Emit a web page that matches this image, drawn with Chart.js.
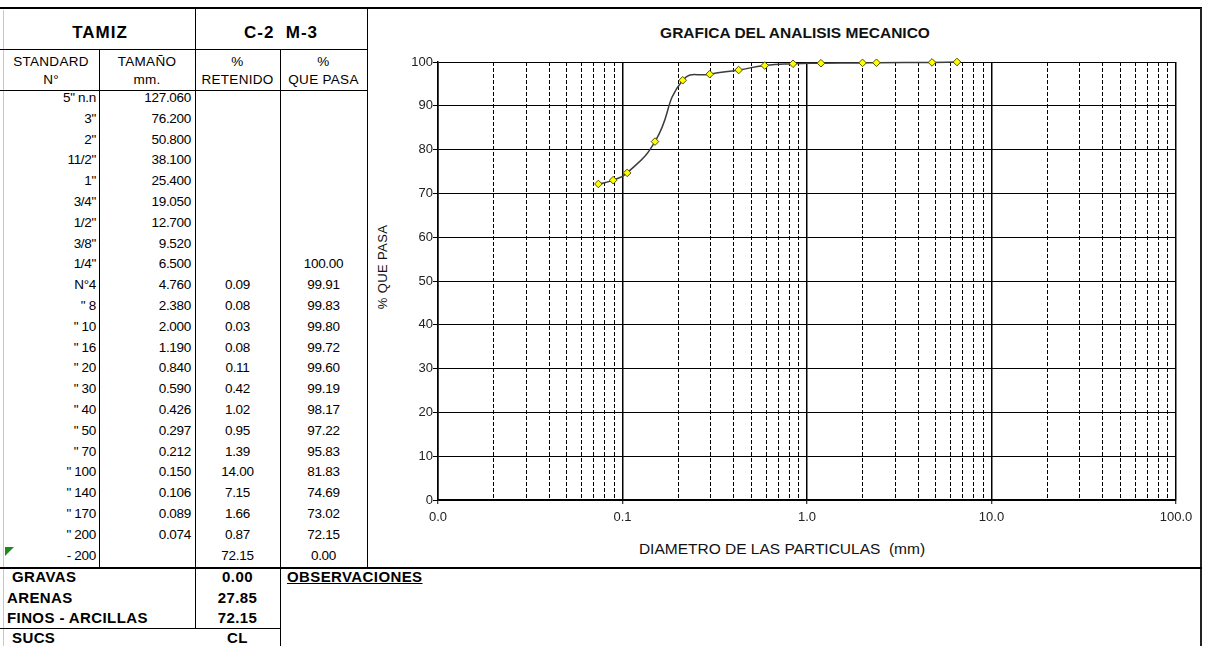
<!DOCTYPE html>
<html><head><meta charset="utf-8">
<script src="https://cdn.jsdelivr.net/npm/chart.js@4.4.1/dist/chart.umd.min.js"></script>
<style>
body{margin:0;background:#fff;width:1212px;height:646px;overflow:hidden;position:relative;font-family:"Liberation Sans",Arial,sans-serif;color:#000}
.ln{position:absolute;background:#000}
.t{position:absolute;white-space:pre;height:20px;line-height:20px}
</style></head><body>
<div id="tbl"></div>
<div style="position:absolute;left:368px;top:9px;width:833px;height:558px"><canvas id="c" width="833" height="558"></canvas></div>
<script>
// ---- data ----
const standards = ['5" n.n','3"','2"','11/2"','1"','3/4"','1/2"','3/8"','1/4"','N°4','" 8','" 10','" 16','" 20','" 30','" 40','" 50','" 70','" 100','" 140','" 170','" 200','- 200'];
const sizeMm = [127.06,76.2,50.8,38.1,25.4,19.05,12.7,9.52,6.5,4.76,2.38,2.0,1.19,0.84,0.59,0.426,0.297,0.212,0.15,0.106,0.089,0.074,null];
const retenido = [null,null,null,null,null,null,null,null,null,0.09,0.08,0.03,0.08,0.11,0.42,1.02,0.95,1.39,14.00,7.15,1.66,0.87,72.15];
const quePasa = [null,null,null,null,null,null,null,null,100.00,99.91,99.83,99.80,99.72,99.60,99.19,98.17,97.22,95.83,81.83,74.69,73.02,72.15,0.00];
const summaryLabels = ['GRAVAS','ARENAS','FINOS - ARCILLAS','SUCS'];
const summaryValues = ['0.00','27.85','72.15','CL'];
const decades = [0.01,0.1,1,10,100];
const decadeLabels = ['0.0','0.1','1.0','10.0','100.0'];
const minorMultipliers = [1,2,3,4,5,6,7,8,9];
const yTickStep = 10;

// ---- table drawing ----
const tbl = document.getElementById('tbl');
function line(x,y,w,h,col){const d=document.createElement('div');d.className='ln';d.style.cssText=`left:${x}px;top:${y}px;width:${w}px;height:${h}px;`+(col?`background:${col};`:'');tbl.appendChild(d);}
function txt(s,x,cy,align,style){
  const d=document.createElement('div');d.className='t';d.textContent=s;
  let left,width=300;
  if(align==='right'){left=x-width;} else if(align==='center'){left=x-width/2;} else {left=x;}
  d.style.cssText=`left:${left}px;top:${cy-10}px;width:${width}px;text-align:${align};`+(style||'');
  tbl.appendChild(d);
  return d;
}
line(3,10,1,636,'#c8c8c8');
line(0,7,1202,2);
line(1200,8,2,638,'#222');
line(0,49,368,1);
line(0,90,368,1);
line(99,49,1,519);
line(195,8,1,621);
line(280,49,1,597);
line(367,8,1,560);
line(0,567,1202,2);
line(0,628,281,1);
// green comment indicator
const tri=document.createElement('div');tri.style.cssText='position:absolute;left:5px;top:547px;width:0;height:0;border-top:9px solid #1e8a1e;border-right:9px solid transparent;';tbl.appendChild(tri);

const hb='font-weight:bold;font-size:17px;letter-spacing:1px;';
txt('TAMIZ',100,33,'center',hb);
txt('C-2  M-3',281,33,'center',hb);
const hs='font-size:13.5px;letter-spacing:0.3px;';
txt('STANDARD',51,62,'center',hs); txt('N°',51,80,'center',hs);
txt('TAMAÑO',147,62,'center',hs); txt('mm.',147,80,'center',hs);
txt('%',237.5,62,'center',hs); txt('RETENIDO',237.5,80,'center',hs);
txt('%',323.5,62,'center',hs); txt('QUE PASA',323.5,80,'center',hs);
const ds='font-size:13.5px;letter-spacing:-0.3px;';
standards.forEach((s,i)=>{
  const cy=98+i*20.8;
  txt(s,96,cy,'right',ds);
  if(sizeMm[i]!=null) txt(sizeMm[i].toFixed(3),191,cy,'right',ds);
  if(retenido[i]!=null) txt(retenido[i].toFixed(2),237.5,cy,'center',ds);
  if(quePasa[i]!=null) txt(quePasa[i].toFixed(2),323.5,cy,'center',ds);
});
const sb='font-weight:bold;font-size:15px;letter-spacing:0.4px;';
const sumX=[12,7,7,12], sumY=[577,598,618,638];
summaryLabels.forEach((s,i)=>{txt(s,sumX[i],sumY[i],'left',sb);txt(summaryValues[i],237.5,sumY[i],'center',sb);});
txt('OBSERVACIONES',287,577,'left',sb+'text-decoration:underline;');
txt('GRAFICA DEL ANALISIS MECANICO',795,33,'center','font-weight:bold;font-size:15.5px;color:#111;');
txt('DIAMETRO DE LAS PARTICULAS  (mm)',782,549,'center','font-size:15.5px;color:#111;');
const yt=txt('% QUE PASA',383,267,'center','font-size:13px;letter-spacing:0.4px;color:#111;');
yt.style.transform='rotate(-90deg)';

// ---- chart ----
const family='"Liberation Sans", Arial, sans-serif';
const pts=[];
sizeMm.forEach((s,i)=>{ if(s!=null && quePasa[i]!=null) pts.push({x:s,y:quePasa[i]}); });
pts.sort((a,b)=>a.x-b.x);
const xTickValues=[];
decades.slice(0,-1).forEach(d=>minorMultipliers.forEach(m=>xTickValues.push(+(d*m).toPrecision(6))));
xTickValues.push(decades[decades.length-1]);
const decIdx=v=>decades.findIndex(d=>Math.abs(d-v)/d<1e-9);
const isDec=v=>decIdx(v)>=0;
const tickIsDec=c=>c && c.tick && isDec(c.tick.value);
const setTicks=s=>{s.ticks=xTickValues.map(v=>({value:v,major:isDec(v)}));};

new Chart(document.getElementById('c'),{
  type:'line',
  data:{datasets:[{data:pts,xAxisID:'x',yAxisID:'y',borderColor:'#3c3c3c',borderWidth:1.5,tension:0.5,fill:false,clip:false,
    pointStyle:'rectRot',pointRadius:3.8,pointBackgroundColor:'#ffff00',pointBorderColor:'#505000',pointBorderWidth:1}]},
  options:{
    responsive:false,animation:false,devicePixelRatio:1,
    layout:{padding:{top:53,right:25,left:0,bottom:0}},
    plugins:{legend:{display:false},tooltip:{enabled:false},title:{display:false}},
    scales:{
      x:{type:'logarithmic',position:'bottom',min:decades[0],max:decades[decades.length-1],bounds:'data',weight:1,
        afterBuildTicks:setTicks,
        afterFit:s=>{s.height=67;},
        ticks:{autoSkip:false,maxRotation:0,minRotation:0,padding:6,color:'#222',font:{family,size:13},
          callback:v=>{const k=decIdx(v);return k>=0?decadeLabels[k]:'';}},
        grid:{color:c=>tickIsDec(c)?'#000':'rgba(0,0,0,0)',lineWidth:1.5,
          drawTicks:true,tickLength:4,tickWidth:1,tickColor:c=>tickIsDec(c)?'#000':'rgba(0,0,0,0)'},
        border:{color:'#000',width:1.5}
      },
      xMinor:{type:'logarithmic',position:'bottom',min:decades[0],max:decades[decades.length-1],bounds:'data',weight:0,
        afterBuildTicks:setTicks,
        afterFit:s=>{s.height=0;},
        ticks:{display:false,autoSkip:false},
        grid:{color:c=>tickIsDec(c)?'rgba(0,0,0,0)':'#000',lineWidth:1,drawTicks:false},
        border:{display:false,dash:[4,2]}
      },
      y:{min:0,max:100,
        afterFit:s=>{s.width=70;},
        ticks:{stepSize:yTickStep,padding:0,color:'#222',font:{family,size:13}},
        grid:{color:'#000',lineWidth:1,tickLength:5},
        border:{color:'#000',width:1.5},
        title:{display:false}
      }
    }
  }
});
</script>
</body></html>
